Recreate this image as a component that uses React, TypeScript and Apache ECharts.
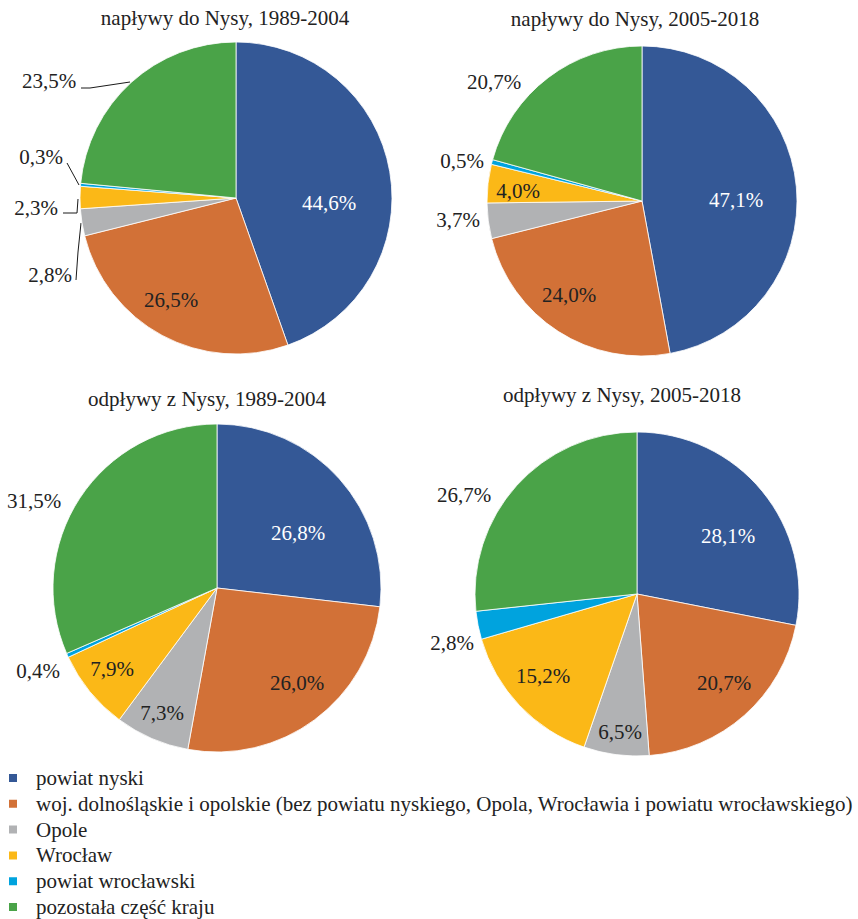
import React, { useEffect, useRef } from 'react';
import * as echarts from 'echarts';

const categories = [
  'powiat nyski',
  'woj. dolnośląskie i opolskie (bez powiatu nyskiego, Opola, Wrocławia i powiatu wrocławskiego)',
  'Opole',
  'Wrocław',
  'powiat wrocławski',
  'pozostała część kraju',
];
const titles = [
  'napływy do Nysy, 1989-2004',
  'napływy do Nysy, 2005-2018',
  'odpływy z Nysy, 1989-2004',
  'odpływy z Nysy, 2005-2018',
];
const inflow1989 = [44.6, 26.5, 2.8, 2.3, 0.3, 23.5];
const inflow2005 = [47.1, 24.0, 3.7, 4.0, 0.5, 20.7];
const outflow1989 = [26.8, 26.0, 7.3, 7.9, 0.4, 31.5];
const outflow2005 = [28.1, 20.7, 6.5, 15.2, 2.8, 26.7];
const seriesValues = [inflow1989, inflow2005, outflow1989, outflow2005];

const colors = ['#345896', '#D27137', '#B1B2B4', '#FBB817', '#00A3DE', '#4AA348'];
const FONT = 'Liberation Serif';
const TXT = '#222222';

// layout (pixels)
const pieLayout = [
  { center: [236, 198], r: 156, title: [225, 18] },
  { center: [642, 201], r: 155, title: [635, 19] },
  { center: [217, 588], r: 164, title: [207, 399] },
  { center: [637, 594], r: 162, title: [622, 395] },
];
const labelPos = [
  [[329, 203], [171, 300], [50, 275], [36, 208], [41, 157], [49, 81]],
  [[736, 200], [569, 295], [458, 220], [518, 191], [462, 161], [494, 82]],
  [[298, 533], [297, 683], [162, 713], [112, 669], [38, 671], [34, 501]],
  [[728, 536], [724, 683], [620, 732], [543, 676], [452, 643], [464, 495]],
];
const leaderLines: Record<string, number[][]> = {
  '0-2': [[76, 280], [78, 252], [81, 223]],
  '0-3': [[63, 213], [77, 213], [78, 199]],
  '0-4': [[67, 163], [73, 174], [79, 185]],
  '0-5': [[81, 88], [90, 88], [130, 82]],
};

export default function App() {
  const ref = useRef<HTMLDivElement>(null);
  useEffect(() => {
    if (!ref.current) return;
    const chart = echarts.init(ref.current, null, { renderer: 'svg' });
    const series = seriesValues.map((vals, si) => ({
      type: 'pie',
      center: pieLayout[si].center,
      radius: pieLayout[si].r,
      startAngle: 90,
      clockwise: true,
      avoidLabelOverlap: false,
      silent: true,
      itemStyle: { borderColor: '#ffffff', borderWidth: 0.8 },
      label: {
        fontFamily: FONT,
        fontSize: 21,
        color: TXT,
        formatter: (p: any) => p.value.toFixed(1).replace('.', ',') + '%',
      },
      labelLine: { show: false, lineStyle: { color: '#1a1a1a', width: 1 } },
      labelLayout: (p: any) => {
        const pos = labelPos[si][p.dataIndex];
        const res: any = { x: pos[0], y: pos[1], align: 'center', verticalAlign: 'middle' };
        const ll = leaderLines[si + '-' + p.dataIndex];
        if (ll) res.labelLinePoints = ll;
        return res;
      },
      data: vals.map((v, i) => {
        const hasLine = !!leaderLines[si + '-' + i];
        return {
          name: categories[i],
          value: v,
          itemStyle: { color: colors[i] },
          label: {
            position: hasLine ? 'outside' : 'inside',
            color: i === 0 ? '#ffffff' : TXT,
          },
          labelLine: { show: hasLine },
        };
      }),
    }));
    chart.setOption({
      animation: false,
      color: colors,
      legend: {
        orient: 'vertical',
        left: 7,
        top: 767.5,
        height: 200,
        padding: 0,
        itemWidth: 10,
        itemHeight: 10,
        itemGap: 4.8,
        icon: 'rect',
        selectedMode: false,
        data: categories,
        textStyle: { fontFamily: FONT, fontSize: 21, color: TXT, padding: [0, 0, 0, 13] },
      },
      graphic: titles.map((t, i) => ({
        type: 'text',
        x: pieLayout[i].title[0],
        y: pieLayout[i].title[1],
        style: {
          text: t,
          font: '21px ' + FONT,
          fill: TXT,
          align: 'center',
          verticalAlign: 'middle',
          textAlign: 'center',
          textVerticalAlign: 'middle',
        },
      })),
      series,
    });
    return () => chart.dispose();
  }, []);
  return (
    <div
      ref={ref}
      style={{ position: 'absolute', left: 0, top: 0, width: 858, height: 919, background: '#fff' }}
    />
  );
}
